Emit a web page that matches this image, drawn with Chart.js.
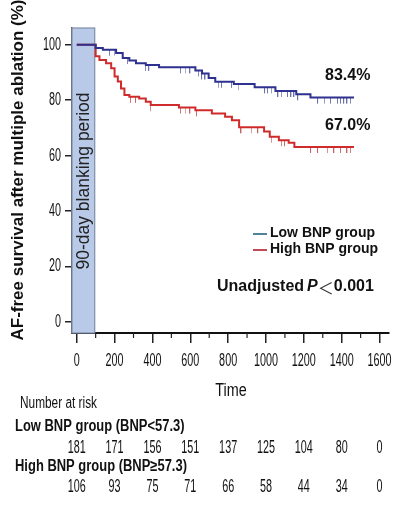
<!DOCTYPE html>
<html>
<head>
<meta charset="utf-8">
<script src="https://cdn.jsdelivr.net/npm/chart.js@4.4.1/dist/chart.umd.min.js"></script>
<style>
  html, body { margin: 0; padding: 0; background: #fff; }
  #km { display: block; }
</style>
</head>
<body>
<canvas id="km" width="394" height="505"></canvas>
<script>
// Kaplan-Meier steps (time in days, survival in %)
const lowTimes = [0, 100, 138, 208, 243, 278, 313, 365, 435, 627, 662, 697, 732, 830, 940, 1050, 1160, 1235, 1465];
const lowSurv  = [100, 98.8, 98.2, 97.0, 95.2, 94.3, 93.3, 92.7, 91.8, 90.7, 89.6, 88.0, 86.6, 85.8, 84.6, 83.3, 82.1, 80.9, 80.9];

const highTimes = [0, 100, 120, 155, 182, 200, 217, 234, 252, 278, 330, 365, 391, 540, 627, 714, 784, 820, 858, 990, 1020, 1068, 1120, 1150, 1465];
const highSurv  = [100, 95.8, 94.5, 93.3, 91.5, 88.5, 86.7, 84.2, 81.8, 81.2, 80.6, 79.4, 78.2, 77.3, 76.3, 75.2, 74.0, 72.7, 70.2, 68.7, 66.8, 65.5, 64.6, 63.1, 63.1];

// censored observations (tick marks)
const lowCensor  = [175, 200, 270, 365, 383, 550, 575, 600, 645, 662, 680, 750, 767, 820, 855, 995, 1010, 1030, 1065, 1083, 1116, 1134, 1150, 1170, 1275, 1310, 1343, 1380, 1396, 1413, 1430, 1448];
const highCensor = [286, 313, 391, 550, 575, 600, 635, 870, 924, 959, 1030, 1083, 1100, 1238, 1275, 1326, 1361, 1396, 1430, 1448];

const xTicks = [0, 200, 400, 600, 800, 1000, 1200, 1400, 1600];
const yTicks = [0, 20, 40, 60, 80, 100];

const lowRisk  = [181, 171, 156, 151, 137, 125, 104, 80, 0];
const highRisk = [106, 93, 75, 71, 66, 58, 44, 34, 0];

const blankingDays = 95;
const lowFinal = '83.4%';
const highFinal = '67.0%';

const SANS = "'Liberation Sans', Arial, sans-serif";
const CJK = "'Noto Sans CJK SC', 'Noto Sans', sans-serif";
const BLUE = '#2e3190';
const RED = '#d02b2b';

const toPoints = (ts, vs) => ts.map((t, i) => ({ x: t, y: vs[i] }));

// survival value at time t from a step curve
const survAt = (ts, vs, t) => {
    let v = vs[0];
    for (let i = 0; i < ts.length; i++) {
        if (ts[i] <= t) v = vs[i];
    }
    return v;
};

// small tick hanging below the curve
const makeTick = (color) => {
    const c = document.createElement('canvas');
    c.width = 2;
    c.height = 14;
    const g = c.getContext('2d');
    g.fillStyle = color;
    g.fillRect(0, 7, 1, 6);
    return c;
};

// the original uses a very condensed face, squeeze a normal one horizontally
const narrowText = (ctx, text, x, y, font, align, squeeze) => {
    ctx.save();
    ctx.translate(x, y);
    ctx.scale(squeeze, 1);
    ctx.font = font;
    ctx.textAlign = align;
    ctx.textBaseline = 'middle';
    ctx.fillText(text, 0, 0);
    ctx.restore();
};

const overlay = {
    id: 'overlay',
    beforeDatasetsDraw(chart) {
        const { ctx, chartArea, scales } = chart;
        const x1 = scales.x.getPixelForValue(blankingDays);
        ctx.save();
        ctx.fillStyle = '#b9cae8';
        ctx.fillRect(chartArea.left, chartArea.top, x1 - chartArea.left, chartArea.bottom - chartArea.top);
        ctx.strokeStyle = '#7f8ea8';
        ctx.lineWidth = 1.2;
        ctx.strokeRect(chartArea.left, chartArea.top, x1 - chartArea.left, chartArea.bottom - chartArea.top);

        // rotated label inside the box
        ctx.translate((chartArea.left + x1) / 2 + 1, 181);
        ctx.rotate(-Math.PI / 2);
        ctx.fillStyle = '#222';
        ctx.font = '17.5px ' + SANS;
        ctx.textAlign = 'center';
        ctx.textBaseline = 'middle';
        ctx.fillText('90-day blanking period', 0, 0);
        ctx.restore();
    },
    afterDraw(chart) {
        const { ctx, scales } = chart;
        const xs = scales.x;
        const ys = scales.y;
        const num = '18px ' + SANS;
        ctx.save();
        ctx.fillStyle = '#111';

        // minor x ticks
        ctx.strokeStyle = '#222';
        ctx.lineWidth = 1.2;
        for (let i = 0; i < xTicks.length - 1; i++) {
            const px = xs.getPixelForValue((xTicks[i] + xTicks[i + 1]) / 2);
            ctx.beginPath();
            ctx.moveTo(px, xs.top);
            ctx.lineTo(px, xs.top + 5);
            ctx.stroke();
        }

        // tick labels at the scales' own ticks
        xs.ticks.forEach(t => {
            narrowText(ctx, String(t.value), xs.getPixelForValue(t.value), 361, num, 'center', 0.6);
        });
        ys.ticks.forEach(t => {
            narrowText(ctx, String(t.value), 61, ys.getPixelForValue(t.value), num, 'right', 0.6);
        });

        // y axis title
        ctx.save();
        ctx.translate(18, 170);
        ctx.rotate(-Math.PI / 2);
        ctx.font = 'bold 17px ' + SANS;
        ctx.textAlign = 'center';
        ctx.textBaseline = 'middle';
        ctx.fillText('AF-free survival after multiple ablation (%)', 0, 0);
        ctx.restore();

        ctx.textBaseline = 'middle';

        // final survival labels
        ctx.font = 'bold 16px ' + SANS;
        ctx.textAlign = 'left';
        ctx.fillText(lowFinal, 325, 76);
        ctx.fillText(highFinal, 325, 126);

        // legend
        ctx.lineWidth = 2;
        ctx.strokeStyle = '#4f8399';
        ctx.beginPath(); ctx.moveTo(253, 234); ctx.lineTo(267, 234); ctx.stroke();
        ctx.strokeStyle = '#c24a57';
        ctx.beginPath(); ctx.moveTo(253, 250); ctx.lineTo(267, 250); ctx.stroke();
        ctx.font = 'bold 14px ' + SANS;
        ctx.fillText('Low BNP group', 270, 233);
        ctx.fillText('High BNP group', 270, 249);

        // p value
        let px = 217;
        ctx.font = 'bold 16px ' + SANS;
        ctx.fillText('Unadjusted', px, 287);
        px += ctx.measureText('Unadjusted').width + 3;
        ctx.font = 'italic bold 16px ' + SANS;
        ctx.fillText('P', px, 287);
        px += ctx.measureText('P').width;
        ctx.font = '16px ' + CJK;
        ctx.fillStyle = '#333';
        ctx.fillText('\uFF1C', px, 288);
        px += ctx.measureText('\uFF1C').width;
        ctx.fillStyle = '#111';
        ctx.font = 'bold 16px ' + SANS;
        ctx.fillText('0.001', px, 287);

        // x axis title and number at risk
        narrowText(ctx, 'Time', 231, 391, num, 'center', 0.8);
        narrowText(ctx, 'Number at risk', 20, 404, '16px ' + SANS, 'left', 0.74);

        narrowText(ctx, 'Low BNP group (BNP<57.3)', 15, 427, 'bold 16px ' + SANS, 'left', 0.81);
        narrowText(ctx, 'High BNP group (BNP\u226557.3)', 15, 467, 'bold 16px ' + SANS, 'left', 0.81);

        xTicks.forEach((t, i) => {
            const tx = xs.getPixelForValue(t);
            narrowText(ctx, String(lowRisk[i]), tx, 448, num, 'center', 0.6);
            narrowText(ctx, String(highRisk[i]), tx, 487, num, 'center', 0.6);
        });
        ctx.restore();
    }
};

document.addEventListener('DOMContentLoaded', () => {
    const ctx = document.getElementById('km');

    new Chart(ctx, {
        type: 'line',
        data: {
            datasets: [
                {
                    label: 'Low BNP group',
                    data: toPoints(lowTimes, lowSurv),
                    stepped: 'before',
                    borderColor: BLUE,
                    borderWidth: 2,
                    pointRadius: 0,
                    fill: false
                },
                {
                    label: 'High BNP group',
                    data: toPoints(highTimes, highSurv),
                    stepped: 'before',
                    borderColor: RED,
                    borderWidth: 2,
                    pointRadius: 0,
                    fill: false
                },
                {
                    label: 'Low censored',
                    data: lowCensor.map(t => ({ x: t, y: survAt(lowTimes, lowSurv, t) })),
                    showLine: false,
                    pointStyle: makeTick('#6a70a8'),
                    pointRadius: 3
                },
                {
                    label: 'High censored',
                    data: highCensor.map(t => ({ x: t, y: survAt(highTimes, highSurv, t) })),
                    showLine: false,
                    pointStyle: makeTick('#c46464'),
                    pointRadius: 3
                }
            ]
        },
        options: {
            responsive: false,
            animation: false,
            layout: { padding: { top: 28, right: 1, left: 0, bottom: 0 } },
            plugins: {
                legend: { display: false },
                tooltip: { enabled: false }
            },
            scales: {
                x: {
                    type: 'linear',
                    min: -25,
                    max: 1650,
                    afterBuildTicks: s => { s.ticks = xTicks.map(v => ({ value: v })); },
                    afterFit: s => { s.height = 172; },
                    grid: { drawOnChartArea: false, tickLength: 10, color: '#222', lineWidth: 1.5 },
                    border: { color: '#111', width: 2 },
                    ticks: { display: false }
                },
                y: {
                    min: -4,
                    max: 106,
                    afterBuildTicks: s => { s.ticks = yTicks.map(v => ({ value: v })); },
                    afterFit: s => { s.width = 72; },
                    grid: { drawOnChartArea: false, tickLength: 7, color: '#222', lineWidth: 1.5 },
                    border: { color: '#555', width: 1.5 },
                    ticks: { display: false }
                }
            }
        },
        plugins: [overlay]
    });
});
</script>
</body>
</html>
